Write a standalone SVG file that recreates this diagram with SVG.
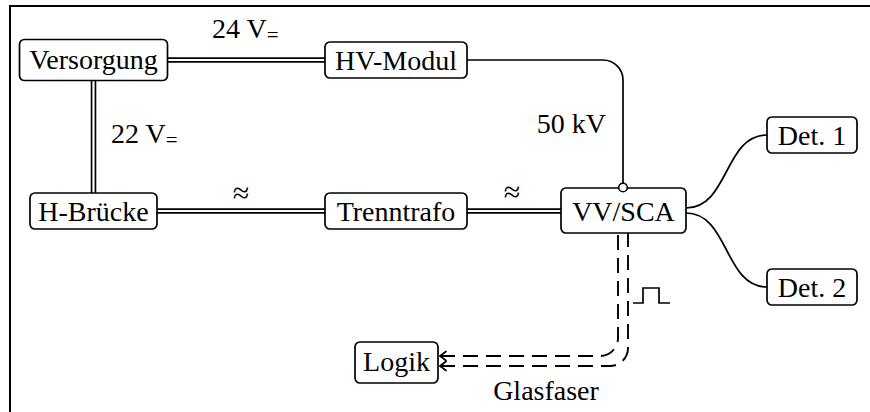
<svg xmlns="http://www.w3.org/2000/svg" width="870" height="412" viewBox="0 0 870 412">
<style>
text{font-family:"Liberation Serif","Times New Roman",serif;font-size:28px;fill:#000}
.lbl{text-anchor:middle}
.box{fill:#fff;stroke:#000;stroke-width:1.7}
.frame{fill:none;stroke:#000;stroke-width:2}
.wire{fill:none;stroke:#000;stroke-width:1.7}
.dblo{fill:none;stroke:#000;stroke-width:5.6}
.dbli{fill:none;stroke:#fff;stroke-width:2.2}
.dash{fill:none;stroke:#000;stroke-width:1.9;stroke-dasharray:15 8}
.sub{font-size:21px}
.approx{font-size:30px}
</style>
<defs>
<marker id="to" markerUnits="userSpaceOnUse" markerWidth="14" markerHeight="14" viewBox="-8 -7 10 14" refX="0" refY="0" orient="auto-start-reverse">
<path d="M-6,-4.5 Q-1.5,-1 0,0 Q-1.5,1 -6,4.5" fill="none" stroke="#000" stroke-width="1.7" stroke-linecap="round"/>
</marker>
</defs>
<path class="frame" d="M10,412 V6 H870"/>
<g id="connectors">
<path class="dblo" d="M168,60 H325 M93.5,81 V193 M157,211 H325 M467,211 H561"/>
<path class="dbli" d="M168,60 H325 M93.5,81 V193 M157,211 H325 M467,211 H561"/>
<path class="wire" d="M467,60 H603 A20,20 0 0 1 623,80 V183"/>
<path class="wire" d="M686,208 C729,208 724,135 767,135"/>
<path class="wire" d="M686,213 C729,213 724,287 767,287"/>
<path class="dash" marker-start="url(#to)" d="M440,356 H600 A18,18 0 0 0 618,338 V233"/>
<path class="dash" marker-start="url(#to)" d="M440,366 H610 A18,18 0 0 0 628,348 V233"/>
<path class="wire" d="M633,303 H643 V288 H659 V303 H670"/>
</g>
<g id="labels">
<text x="212" y="38">24 V<tspan class="sub" dy="4">=</tspan></text>
<text x="111" y="143">22 V<tspan class="sub" dy="4">=</tspan></text>
<text x="606" y="133" text-anchor="end">50 kV</text>
<text class="lbl approx" x="241" y="203">≈</text>
<text class="lbl approx" x="512" y="202">≈</text>
<text class="lbl" x="546" y="400">Glasfaser</text>
</g>
<g id="versorgung"><rect class="box" x="19.5" y="39.5" width="148" height="41" rx="5"/><text class="lbl" x="93.5" y="69">Versorgung</text></g>
<g id="hv-modul"><rect class="box" x="325" y="42" width="142" height="36" rx="5"/><text class="lbl" x="396" y="69.5">HV-Modul</text></g>
<g id="h-bruecke"><rect class="box" x="30" y="193" width="127" height="36" rx="5"/><text class="lbl" x="93.5" y="220.5">H-Brücke</text></g>
<g id="trenntrafo"><rect class="box" x="325" y="193" width="142" height="36" rx="5"/><text class="lbl" x="396" y="220.5">Trenntrafo</text></g>
<g id="vv-sca"><rect class="box" x="561" y="188" width="125" height="45" rx="5"/><text class="lbl" x="623.5" y="220.5">VV/SCA</text><circle cx="623" cy="187.5" r="4.3" fill="#fff" stroke="#000" stroke-width="1.6"/></g>
<g id="det1"><rect class="box" x="767" y="117" width="90" height="36" rx="5"/><text class="lbl" x="812" y="144.5">Det. 1</text></g>
<g id="det2"><rect class="box" x="767" y="269" width="90" height="36" rx="5"/><text class="lbl" x="812" y="296.5">Det. 2</text></g>
<g id="logik"><rect class="box" x="355" y="342" width="83" height="41" rx="5"/><text class="lbl" x="396.5" y="371">Logik</text></g>
</svg>
